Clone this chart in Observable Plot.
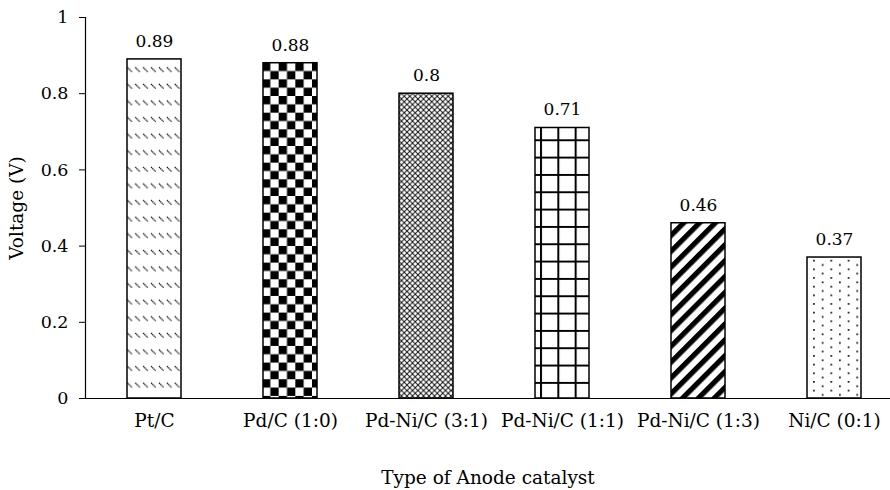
<!DOCTYPE html>
<html>
<head>
<meta charset="utf-8">
<script src="https://cdn.jsdelivr.net/npm/d3@7"></script>
<script src="https://cdn.jsdelivr.net/npm/@observablehq/plot@0.6"></script>
<style>
  html, body { margin: 0; padding: 0; background: #fff; }
</style>
</head>
<body>
<div id="chart"></div>
<script>
// Open-circuit voltage by anode catalyst
const catalysts = ["Pt/C", "Pd/C (1:0)", "Pd-Ni/C (3:1)", "Pd-Ni/C (1:1)", "Pd-Ni/C (1:3)", "Ni/C (0:1)"];
const voltages = [0.89, 0.88, 0.8, 0.71, 0.46, 0.37];
const yTicks = [0, 0.2, 0.4, 0.6, 0.8, 1];
const xTitle = "Type of Anode catalyst";
const yTitle = "Voltage (V)";

// one fill pattern per bar
const patternIds = ["pat-pt", "pat-pd", "pat-pdni31", "pat-pdni11", "pat-pdni13", "pat-ni"];

const rows = catalysts.map((c, i) => ({
  catalyst: c,
  voltage: voltages[i],
  pattern: `url(#${patternIds[i]})`
}));

const W = 890, H = 490;
const mL = 85, mT = 17, mB = 92;

const chart = Plot.plot({
  width: W,
  height: H,
  marginTop: mT,
  marginBottom: mB,
  marginLeft: mL,
  marginRight: 0,
  style: { fontFamily: "'DejaVu Serif', serif", fontSize: "18px", color: "#000", background: "#fff", overflow: "visible" },
  x: { domain: catalysts, range: [mL, 902.6], paddingInner: 0.6, paddingOuter: 0.3, label: null },
  y: { domain: [0, 1], label: null },
  color: { type: "identity" },
  marks: [
    Plot.barY(rows, { x: "catalyst", y: "voltage", fill: "pattern", stroke: "#000", strokeWidth: 1.5 }),
    Plot.text(rows, { x: "catalyst", y: "voltage", text: d => String(d.voltage), dy: -18, fill: "#000", fontSize: 17 }),
    Plot.axisY({ ticks: yTicks, tickSize: 6, tickPadding: 11, tickFormat: d => String(d), label: null, stroke: "#000", fontSize: 17.5 }),
    Plot.axisX({ tickSize: 0, tickPadding: 15, label: null, fontSize: 18.5 }),
    Plot.frame({ anchor: "left", stroke: "#000", strokeWidth: 1.2 }),
    Plot.ruleY([0], { stroke: "#000", strokeWidth: 1.2 }),
    Plot.text([xTitle], { frameAnchor: "bottom", lineAnchor: "middle", textAnchor: "middle", dy: 80, text: d => d, fill: "#000", fontSize: 18.5 }),
    Plot.text([yTitle], { frameAnchor: "left", lineAnchor: "middle", textAnchor: "middle", dx: -68, rotate: -90, text: d => d, fill: "#000", fontSize: 18.5 })
  ]
});

// pattern definitions used as bar fills
const svg = d3.select(chart);
const defs = svg.insert("defs", ":first-child");
const ns = (id, w, h, x = 0, y = 0) =>
  defs.append("pattern").attr("id", id).attr("patternUnits", "userSpaceOnUse")
    .attr("width", w).attr("height", h).attr("x", x).attr("y", y);

// dashed downward diagonal
{
  const p = ns("pat-pt", 7.9, 16.6);
  p.append("rect").attr("width", 7.9).attr("height", 16.6).attr("fill", "#fff");
  p.append("line").attr("x1", 1).attr("y1", 1).attr("x2", 5.5).attr("y2", 5.5)
    .attr("stroke", "#000").attr("stroke-width", 1.2).attr("stroke-dasharray", "1.3 0.5");
}
// large checkerboard
{
  const s = 8.33;
  const p = ns("pat-pd", 2 * s, 2 * s, 262, 62.7);
  p.append("rect").attr("width", 2 * s).attr("height", 2 * s).attr("fill", "#fff");
  p.append("rect").attr("width", s).attr("height", s).attr("fill", "#000");
  p.append("rect").attr("x", s).attr("y", s).attr("width", s).attr("height", s).attr("fill", "#000");
}
// fine diamond lattice
{
  const s = 5.5;
  const p = ns("pat-pdni31", s, s);
  p.append("rect").attr("width", s).attr("height", s).attr("fill", "#fff");
  p.append("path").attr("d", `M0,0L${s},${s}M${s},0L0,${s}`).attr("stroke", "#111").attr("stroke-width", 1);
}
// large grid
{
  const s = 17.33;
  const p = ns("pat-pdni11", s, s, 540, 139.3);
  p.append("rect").attr("width", s).attr("height", s).attr("fill", "#fff");
  p.append("path").attr("d", `M1,0V${s}M0,1H${s}`).attr("stroke", "#000").attr("stroke-width", 2);
}
// wide upward diagonal
{
  const s = 11.2;
  const p = ns("pat-pdni13", s, s).attr("patternTransform", "rotate(45)");
  p.append("rect").attr("width", s).attr("height", s).attr("fill", "#fff");
  p.append("rect").attr("width", 5.2).attr("height", s).attr("fill", "#000");
}
// sparse dots
{
  const w = 17.3, h = 8.66;
  const p = ns("pat-ni", w, h, 0, 0);
  p.append("rect").attr("width", w).attr("height", h).attr("fill", "#fff");
  p.append("rect").attr("x", 0).attr("y", 0).attr("width", 1.7).attr("height", 1.7).attr("fill", "#111");
  p.append("rect").attr("x", w / 2).attr("y", h / 2).attr("width", 1.7).attr("height", 1.7).attr("fill", "#111");
}

document.getElementById("chart").appendChild(chart);
</script>
</body>
</html>
